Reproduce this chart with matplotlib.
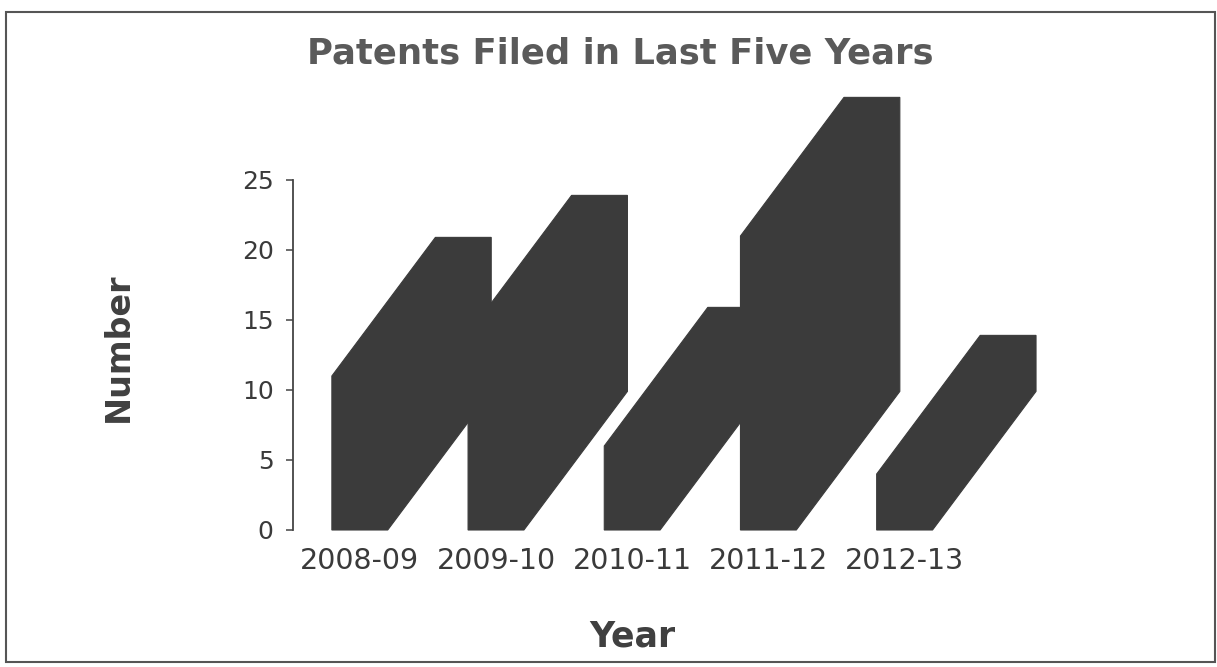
import numpy as np
import matplotlib
matplotlib.use("Agg")
import matplotlib.pyplot as plt
from matplotlib.patches import Polygon, Rectangle

# patents filed per financial year
years = ["2008-09", "2009-10", "2010-11", "2011-12", "2012-13"]
patents = [11, 14, 6, 21, 4]
yticks = [0, 5, 10, 15, 20, 25]

BAR_COLOR = "#3b3b3b"
TEXT_COLOR = "#3a3a3a"

# pseudo-3d column: front face width plus a slanted depth offset
width = 0.41
depth_x = 0.76
depth_y = 9.9


def column_outline(x, h):
    left, right = x - width / 2, x + width / 2
    return [(left, 0), (right, 0),
            (right + depth_x, depth_y), (right + depth_x, h + depth_y),
            (left + depth_x, h + depth_y), (left, h)]


fig = plt.figure(figsize=(12.17, 6.67), dpi=100)
ax = fig.add_axes([0.2408, 0.2054, 0.6368, 0.6612])

for i, v in enumerate(patents):
    ax.add_patch(Polygon(column_outline(i, v), closed=True,
                         facecolor=BAR_COLOR, edgecolor=BAR_COLOR,
                         linewidth=0.8, clip_on=False))

ax.set_xlim(-0.49, 5.2)
ax.set_ylim(0, 31.5)

for side in ["top", "right", "bottom"]:
    ax.spines[side].set_visible(False)
ax.spines["left"].set_bounds(0, 25)
ax.spines["left"].set_color("#444444")
ax.spines["left"].set_linewidth(1.3)

ax.set_yticks(yticks)
ax.set_yticklabels([str(t) for t in yticks])
ax.tick_params(axis="y", direction="out", length=5, width=1.1,
               color="#444444", pad=9, labelsize=18, labelcolor=TEXT_COLOR)

ax.set_xticks(np.arange(len(years)))
ax.set_xticklabels(years)
ax.tick_params(axis="x", length=0, pad=12, labelsize=20.5,
               labelcolor=TEXT_COLOR)

fig.text(620 / 1217, 0.9055, "Patents Filed in Last Five Years",
         ha="center", va="baseline", fontsize=25.5, fontweight="bold",
         color="#5a5a5a")
fig.text(632 / 1217, 0.030, "Year", ha="center", va="baseline",
         fontsize=25, fontweight="bold", color="#404040")
fig.text(118 / 1217, 0.48, "Number", ha="center", va="center",
         rotation=90, fontsize=24, fontweight="bold", color="#404040")

# border around the whole chart area
fig.add_artist(Rectangle((6 / 1217, 5 / 667), 1209 / 1217, 650 / 667,
                         transform=fig.transFigure, fill=False,
                         edgecolor="#555555", linewidth=1.5))

fig.savefig("out.png", dpi=100)
